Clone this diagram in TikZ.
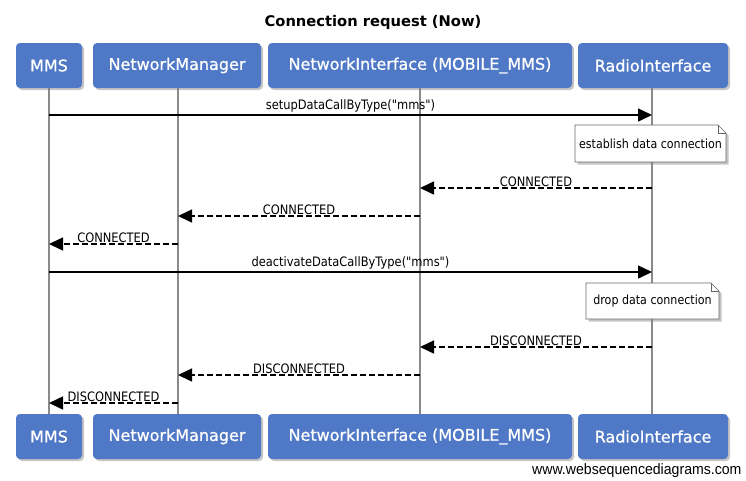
\documentclass[tikz,border=0pt]{standalone}
\usepackage{fontspec}
\setmainfont{DejaVu Sans}
\newfontfamily\actorfont[FakeBold=0.8]{DejaVu Sans}
\newfontfamily\lblfont[FakeStretch=0.88]{DejaVu Sans}
\newfontfamily\footfont[FakeStretch=0.94]{Liberation Sans}
\usetikzlibrary{arrows.meta,shadows}
\definecolor{actorblue}{HTML}{4F79C6}
\definecolor{lifegray}{HTML}{8A8A8A}
\tikzset{
  actor/.style={draw=none, fill=actorblue, rounded corners=4pt, text=white,
    font=\actorfont\fontsize{16}{18}\selectfont, minimum height=45pt, inner sep=0pt,
    drop shadow={shadow xshift=2pt, shadow yshift=-2pt, opacity=0.45}},
  lifeline/.style={draw=lifegray, line width=1.3pt},
  msg/.style={draw=black, line width=1.5pt, -{Triangle[length=14pt,width=13pt]}},
  reply/.style={msg, dash pattern=on 6pt off 3pt},
  mlabel/.style={font=\lblfont\fontsize{13}{15}\selectfont, inner sep=0pt, anchor=south},
  notebox/.style={draw=gray!80!black, fill=white, line width=0.6pt,
    drop shadow={shadow xshift=2.5pt, shadow yshift=-2.5pt, opacity=0.45}},
  notetext/.style={font=\lblfont\fontsize{12.6}{15}\selectfont, inner sep=0pt}
}
\begin{document}
\begin{tikzpicture}[x=1pt,y=-1pt]
\useasboundingbox[fill=white] (0,0) rectangle (746,480);
\node[font=\bfseries\fontsize{14.7}{17}\selectfont] (title) at (373,22) {Connection request (Now)};
% lifelines
\coordinate (l1t) at (49,88); \coordinate (l1b) at (49,414);
\coordinate (l2t) at (178,88); \coordinate (l2b) at (178,414);
\coordinate (l3t) at (420,88); \coordinate (l3b) at (420,414);
\coordinate (l4t) at (652,88); \coordinate (l4b) at (652,414);
\draw[lifeline] (l1t) -- (l1b);
\draw[lifeline] (l2t) -- (l2b);
\draw[lifeline] (l3t) -- (l3b);
\draw[lifeline] (l4t) -- (l4b);
% top actors
\node[actor, minimum width=66pt] (mmsT) at (49,65.5) {MMS};
\node[actor, minimum width=168pt] (nmT) at (177,65.5) {NetworkManager};
\node[actor, minimum width=304pt] (niT) at (420,65.5) {NetworkInterface (MOBILE\_MMS)};
\node[actor, minimum width=150pt] (riT) at (653,65.5) {RadioInterface};
% bottom actors
\node[actor, minimum width=66pt] (mmsB) at (49,436.5) {MMS};
\node[actor, minimum width=168pt] (nmB) at (177,436.5) {NetworkManager};
\node[actor, minimum width=304pt] (niB) at (420,436.5) {NetworkInterface (MOBILE\_MMS)};
\node[actor, minimum width=150pt] (riB) at (653,436.5) {RadioInterface};
% message points
\coordinate (a1) at (49,115); \coordinate (a4) at (652,115);
\coordinate (b4) at (652,188); \coordinate (b3) at (420,188);
\coordinate (c3) at (420,216); \coordinate (c2) at (178,216);
\coordinate (d2) at (178,244); \coordinate (d1) at (49,244);
\coordinate (e1) at (49,272); \coordinate (e4) at (652,272);
\coordinate (f4) at (652,347); \coordinate (f3) at (420,347);
\coordinate (g3) at (420,375); \coordinate (g2) at (178,375);
\coordinate (h2) at (178,403); \coordinate (h1) at (49,403);
\draw[msg] (a1) -- node[mlabel, above=2pt] (m1) {setupDataCallByType("mms")} (a4);
\path[notebox] (575,125) -- (718,125) -- (726,133) -- (726,162) -- (575,162) -- cycle;
\draw[draw=gray!80!black, line width=0.6pt] (718,125) -- (718,133) -- (726,133);
\node[notetext] (n1) at (650.5,144) {establish data connection};
\draw[reply] (b4) -- node[mlabel, above=1pt] (m2) {CONNECTED} (b3);
\draw[reply] (c3) -- node[mlabel, above=1pt] (m3) {CONNECTED} (c2);
\draw[reply] (d2) -- node[mlabel, above=1pt] (m4) {CONNECTED} (d1);
\draw[msg] (e1) -- node[mlabel, above=2pt] (m5) {deactivateDataCallByType("mms")} (e4);
\path[notebox] (586,283) -- (711,283) -- (719,291) -- (719,319) -- (586,319) -- cycle;
\draw[draw=gray!80!black, line width=0.6pt] (711,283) -- (711,291) -- (719,291);
\node[notetext] (n2) at (652.5,301) {drop data connection};
\draw[reply] (f4) -- node[mlabel, above=1pt] (m6) {DISCONNECTED} (f3);
\draw[reply] (g3) -- node[mlabel, above=1pt] (m7) {DISCONNECTED} (g2);
\draw[reply] (h2) -- node[mlabel, above=1pt] (m8) {DISCONNECTED} (h1);
\node[font=\footfont\fontsize{15}{17}\selectfont, anchor=east] (foot) at (745,471) {www.websequencediagrams.com};
\end{tikzpicture}
\end{document}
